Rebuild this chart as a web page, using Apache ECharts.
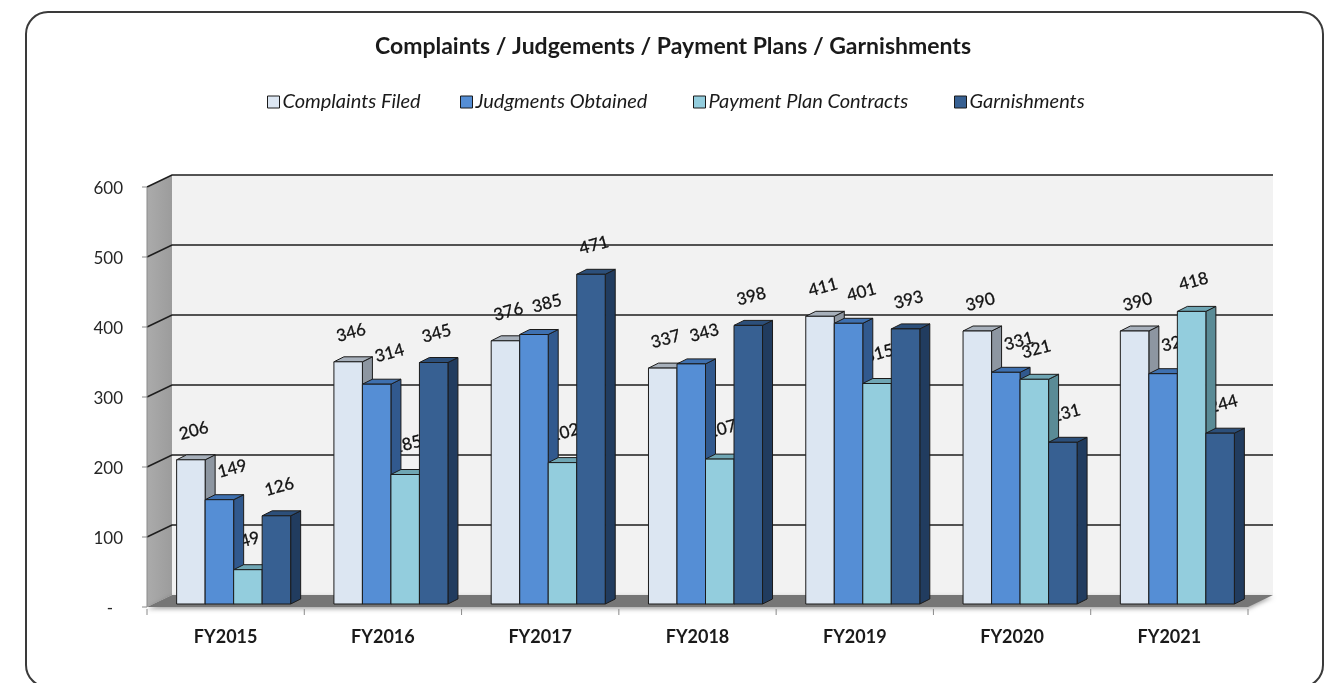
<!DOCTYPE html>
<html>
<head>
<meta charset="utf-8">
<script src="https://cdn.jsdelivr.net/npm/echarts@6/dist/echarts.min.js"></script>
<style>
  html, body { margin: 0; padding: 0; background: #ffffff; }
  #chart { width: 1333px; height: 683px; }
</style>
</head>
<body>
<div id="chart"></div>
<script>
// Fiscal years along the category axis
const categories = ['FY2015', 'FY2016', 'FY2017', 'FY2018', 'FY2019', 'FY2020', 'FY2021'];

// One array per series
const seriesNames = ['Complaints Filed', 'Judgments Obtained', 'Payment Plan Contracts', 'Garnishments'];
const complaintsFiled      = [206, 346, 376, 337, 411, 390, 390];
const judgmentsObtained    = [149, 314, 385, 343, 401, 331, 329];
const paymentPlanContracts = [49, 185, 202, 207, 315, 321, 418];
const garnishments         = [126, 345, 471, 398, 393, 231, 244];

// Value axis ticks and their printed labels (accounting style dash for zero)
const yTicks = [0, 100, 200, 300, 400, 500, 600];
const yTickLabels = ['-', '100', '200', '300', '400', '500', '600'];

const seriesValues = [complaintsFiled, judgmentsObtained, paymentPlanContracts, garnishments];

// Face shades for each column: front, top, side
const faceColors = [
  { front: '#DCE6F2', top: '#A7B0BB', side: '#8D96A1' },
  { front: '#558ED5', top: '#3E70B0', side: '#31598E' },
  { front: '#93CDDD', top: '#6FA6B4', side: '#5A8B96' },
  { front: '#376092', top: '#2C4F7A', side: '#213C5F' }
];

// Pseudo-3D geometry (pixels)
const BACK = [17, -9];    // back wall offset from the column plane
const FRONT = [-8, 3];    // front edge offset from the column plane
const DEPTH = [10, -5];   // column depth
const GROUP_RATIO = 0.725;
const OUTLINE = '#1b1b1b';
const FONT = 'Lato, "Open Sans", sans-serif';

// Per-series nudges for value labels (relative to the column top)
const labelNudge = [[3, -29], [13, -31], [2, -30], [3, -29]];

function columnGeom(api, cat, s, val) {
  const bandW = api.size([1, 0])[0];
  const w = bandW * GROUP_RATIO / 4;
  const base = api.coord([cat, 0]);
  const top = api.coord([cat, val]);
  const x0 = base[0] - 2 * w + s * w;
  return { x0: x0, w: w, yb: base[1], yt: top[1] };
}

function renderWalls(params, api) {
  const bandW = api.size([1, 0])[0];
  const first = api.coord([0, 0]);
  const last = api.coord([categories.length - 1, 0]);
  const L = first[0] - bandW / 2;
  const R = last[0] + bandW / 2;
  const yb = first[1];
  const yt = api.coord([0, yTicks[yTicks.length - 1]])[1];
  const children = [];

  // back wall
  children.push({
    type: 'rect',
    shape: { x: L + BACK[0], y: yt + BACK[1], width: R - L, height: yb - yt },
    style: { fill: '#F2F2F2' }
  });
  // left side wall
  children.push({
    type: 'polygon',
    shape: { points: [
      [L + FRONT[0], yb + FRONT[1]], [L + BACK[0], yb + BACK[1]],
      [L + BACK[0], yt + BACK[1]], [L + FRONT[0], yt + FRONT[1]]
    ] },
    style: {
      fill: new echarts.graphic.LinearGradient(0, 0, 1, 0, [
        { offset: 0, color: '#ABABAB' }, { offset: 1, color: '#9C9C9C' }
      ])
    }
  });
  // floor
  children.push({
    type: 'polygon',
    shape: { points: [
      [L + FRONT[0], yb + FRONT[1]], [R + FRONT[0], yb + FRONT[1]],
      [R + BACK[0], yb + BACK[1]], [L + BACK[0], yb + BACK[1]]
    ] },
    style: {
      fill: '#767676',
      shadowColor: 'rgba(0,0,0,0.35)', shadowBlur: 4, shadowOffsetY: 2
    }
  });
  // gridlines on back wall and side wall
  yTicks.forEach(function (v) {
    if (v === 0) return;
    const y = api.coord([0, v])[1];
    children.push({
      type: 'polyline',
      shape: { points: [
        [L + FRONT[0], y + FRONT[1]], [L + BACK[0], y + BACK[1]], [R + BACK[0], y + BACK[1]]
      ] },
      style: { stroke: '#1e1e1e', lineWidth: 1.6, fill: null }
    });
  });
  // value axis line, ticks and labels on the front edge
  children.push({
    type: 'line',
    shape: { x1: L + FRONT[0], y1: yt + FRONT[1], x2: L + FRONT[0], y2: yb + FRONT[1] },
    style: { stroke: '#8a8a8a', lineWidth: 1 }
  });
  yTicks.forEach(function (v, i) {
    const y = api.coord([0, v])[1] + FRONT[1];
    const xEdge = L + FRONT[0];
    children.push({
      type: 'line',
      shape: { x1: xEdge - 5, y1: y, x2: xEdge, y2: y },
      style: { stroke: '#8a8a8a', lineWidth: 1 }
    });
    const isDash = yTickLabels[i] === '-';
    children.push({
      type: 'text',
      x: isDash ? xEdge - 37 : xEdge - 24,
      y: y + 2,
      style: {
        text: yTickLabels[i], x: 0, y: 0,
        align: isDash ? 'center' : 'right', verticalAlign: 'middle',
        font: '17px ' + FONT, fill: '#262626'
      }
    });
  });
  // category ticks below the floor
  for (let k = 0; k <= categories.length; k++) {
    const x = L + FRONT[0] + k * bandW;
    children.push({
      type: 'line',
      shape: { x1: x, y1: yb + FRONT[1] + 2, x2: x, y2: yb + FRONT[1] + 8 },
      style: { stroke: '#8a8a8a', lineWidth: 1 }
    });
  }
  return { type: 'group', children: children };
}

function makeColumnRenderer(s) {
  const c = faceColors[s];
  return function (params, api) {
    const g = columnGeom(api, api.value(0), s, api.value(1));
    const x1 = g.x0 + g.w;
    const dx = DEPTH[0], dy = DEPTH[1];
    return {
      type: 'group',
      children: [
        { type: 'polygon',
          shape: { points: [[x1, g.yb], [x1 + dx, g.yb + dy], [x1 + dx, g.yt + dy], [x1, g.yt]] },
          style: { fill: c.side, stroke: OUTLINE, lineWidth: 1, lineJoin: 'round' } },
        { type: 'polygon',
          shape: { points: [[g.x0, g.yt], [x1, g.yt], [x1 + dx, g.yt + dy], [g.x0 + dx, g.yt + dy]] },
          style: { fill: c.top, stroke: OUTLINE, lineWidth: 1, lineJoin: 'round' } },
        { type: 'rect',
          shape: { x: g.x0, y: g.yt, width: g.w, height: g.yb - g.yt },
          style: { fill: c.front, stroke: OUTLINE, lineWidth: 1 } }
      ]
    };
  };
}

function renderLabel(params, api) {
  const cat = api.value(0), s = api.value(1), val = api.value(2);
  const g = columnGeom(api, cat, s, val);
  const n = labelNudge[s];
  return {
    type: 'text',
    x: g.x0 + g.w / 2 + n[0],
    y: g.yt + n[1],
    rotation: 15 * Math.PI / 180,
    style: {
      text: String(val),
      x: 0, y: 0,
      align: 'center', verticalAlign: 'middle',
      font: '17px ' + FONT,
      fill: '#111111',
      stroke: '#111111', lineWidth: 0.3
    }
  };
}

const labelRows = [];
seriesValues.forEach(function (arr, s) {
  arr.forEach(function (v, i) { labelRows.push([i, s, v]); });
});

const columnSeries = seriesNames.map(function (name, s) {
  return {
    name: name,
    type: 'custom',
    z: 4,
    renderItem: makeColumnRenderer(s),
    itemStyle: { color: faceColors[s].front },
    encode: { x: 0, y: 1 },
    data: seriesValues[s].map(function (v, i) { return [i, v]; })
  };
});

const legendLefts = [267, 460, 693, 954];
const legends = seriesNames.map(function (name, s) {
  return {
    data: [name],
    left: legendLefts[s],
    top: 92,
    padding: 0,
    icon: 'rect',
    itemWidth: 12,
    itemHeight: 12,
    selectedMode: false,
    itemStyle: { borderColor: '#1a1a1a', borderWidth: 1 },
    textStyle: { fontFamily: FONT, fontStyle: 'italic', fontSize: 20, color: '#1a1a1a', padding: [0, 0, 0, -2] }
  };
});

const chart = echarts.init(document.getElementById('chart'), null, { renderer: 'canvas' });
chart.setOption({
  animation: false,
  backgroundColor: '#ffffff',
  legend: legends,
  grid: { left: 155, right: 77, top: 184, bottom: 79, containLabel: false },
  xAxis: {
    type: 'category',
    data: categories,
    axisLine: { show: false },
    axisTick: { show: false },
    splitLine: { show: false },
    axisLabel: {
      margin: 24,
      padding: [0, 16, 0, 0],
      fontFamily: FONT, fontWeight: 'bold', fontSize: 18, color: '#1a1a1a'
    }
  },
  yAxis: {
    type: 'value',
    min: 0, max: 600, interval: 100,
    axisLine: { show: false },
    axisTick: { show: false },
    splitLine: { show: false },
    axisLabel: { show: false }
  },
  graphic: [
    { type: 'rect', silent: true,
      shape: { x: 26, y: 12, width: 1297, height: 675, r: 22 },
      style: { fill: null, stroke: '#3a3a3a', lineWidth: 2 } },
    { type: 'text', silent: true, x: 673, y: 47,
      style: { text: 'Complaints / Judgements / Payment Plans / Garnishments',
        align: 'center', verticalAlign: 'middle',
        font: 'bold 23px ' + FONT, fill: '#1a1a1a' } }
  ],
  series: [
    { type: 'custom', name: 'walls', z: 1, silent: true,
      renderItem: renderWalls, encode: { x: 0, y: 1 }, data: [[0, 0]] },
    { type: 'custom', name: 'values', z: 3, silent: true,
      renderItem: renderLabel, encode: { x: 0, y: 2 }, data: labelRows }
  ].concat(columnSeries)
});
</script>
</body>
</html>
